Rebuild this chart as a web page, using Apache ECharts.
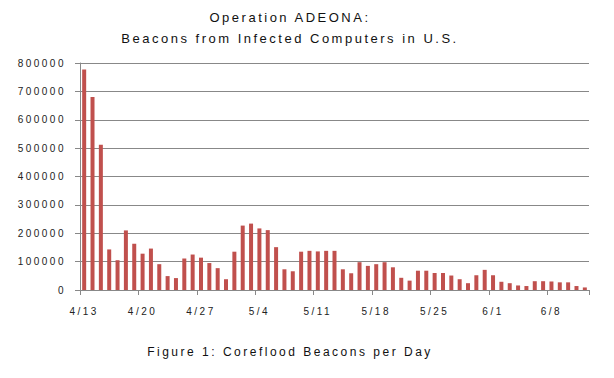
<!DOCTYPE html>
<html>
<head>
<meta charset="utf-8">
<script src="https://cdn.jsdelivr.net/npm/echarts@6/dist/echarts.min.js"></script>
<style>
  html, body { margin: 0; padding: 0; background: #fff; }
  #chart { width: 614px; height: 378px; }
  #chart svg text { letter-spacing: 2.5px; }
</style>
</head>
<body>
<div id="chart"></div>
<script>
const titleLine1 = 'Operation ADEONA:';
const titleLine2 = 'Beacons from Infected Computers in U.S.';
const footerText = 'Figure 1: Coreflood Beacons per Day';

const categories = [
  '4/13','4/14','4/15','4/16','4/17','4/18','4/19','4/20','4/21','4/22','4/23','4/24','4/25','4/26','4/27','4/28','4/29','4/30',
  '5/1','5/2','5/3','5/4','5/5','5/6','5/7','5/8','5/9','5/10','5/11','5/12','5/13','5/14','5/15','5/16','5/17','5/18','5/19','5/20',
  '5/21','5/22','5/23','5/24','5/25','5/26','5/27','5/28','5/29','5/30','5/31',
  '6/1','6/2','6/3','6/4','6/5','6/6','6/7','6/8','6/9','6/10','6/11','6/12'
];

const beacons = [
  777000, 680000, 512000, 143000, 105000, 210000, 163000, 128000, 146000, 91000, 49000, 42000, 111000, 125000, 114000, 95000, 77000, 38000,
  135000, 227000, 234000, 217000, 211000, 151000, 73000, 66000, 135000, 138000, 136000, 138000, 138000, 73000, 59000, 98000, 85000, 91000, 98000, 80000,
  43000, 33000, 68000, 68000, 60000, 60000, 51000, 38000, 24000, 52000, 71000,
  52000, 29000, 24000, 16000, 14000, 31000, 31000, 30000, 27000, 27000, 14000, 9000
];

const yTicks = { min: 0, max: 800000, interval: 100000 };

const chart = echarts.init(document.getElementById('chart'), null, { renderer: 'svg' });
const font = 'Arial, "Liberation Sans", sans-serif';
chart.setOption({
  animation: false,
  backgroundColor: '#ffffff',
  grid: { left: 80, right: 25, top: 63, bottom: 88 },
  graphic: [
    { type: 'text', x: 290, y: 17, style: { text: titleLine1, font: '13px ' + font, fill: '#111', textAlign: 'center', textVerticalAlign: 'middle' } },
    { type: 'text', x: 290, y: 38, style: { text: titleLine2, font: '13px ' + font, fill: '#111', textAlign: 'center', textVerticalAlign: 'middle' } },
    { type: 'text', x: 290, y: 352, style: { text: footerText, font: '12px ' + font, fill: '#111', textAlign: 'center', textVerticalAlign: 'middle' } }
  ],
  xAxis: {
    type: 'category',
    data: categories,
    boundaryGap: true,
    axisLine: { lineStyle: { color: '#888', width: 1 } },
    axisTick: { show: true, interval: 6, length: 5, lineStyle: { color: '#888' } },
    axisLabel: { interval: 6, margin: 16, fontSize: 10, fontFamily: font, color: '#222' },
    splitLine: { show: false }
  },
  yAxis: {
    type: 'value',
    min: yTicks.min, max: yTicks.max, interval: yTicks.interval,
    axisLine: { show: true, lineStyle: { color: '#888', width: 1 } },
    axisTick: { show: true, length: 5, lineStyle: { color: '#888' } },
    axisLabel: { margin: 14, fontSize: 10, fontFamily: font, color: '#222', formatter: v => String(v) },
    splitLine: { show: true, lineStyle: { color: '#888', width: 1 } }
  },
  series: [{
    type: 'bar',
    data: beacons,
    barWidth: 4,
    itemStyle: { color: '#c0504d' }
  }]
});
</script>
</body>
</html>
